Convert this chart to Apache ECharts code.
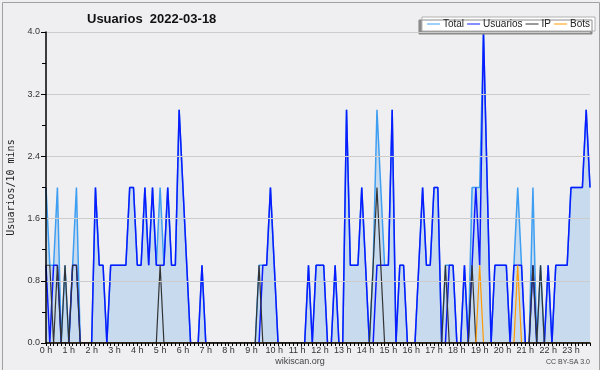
<!DOCTYPE html>
<html>
<head>
<meta charset="utf-8">
<script src="https://cdn.jsdelivr.net/npm/echarts@6/dist/echarts.min.js"></script>
<style>
html,body{margin:0;padding:0;background:#efeff1;}
#c{width:600px;height:370px;}
</style>
</head>
<body>
<div id="c"></div>
<script>
// hour labels of the x axis (one point every 10 minutes)
var hourLabels = ['0 h','1 h','2 h','3 h','4 h','5 h','6 h','7 h','8 h','9 h','10 h','11 h','12 h','13 h','14 h','15 h','16 h','17 h','18 h','19 h','20 h','21 h','22 h','23 h'];
var minuteSteps = ['00','10','20','30','40','50'];
var yTicks = [0, 0.8, 1.6, 2.4, 3.2, 4.0];

var total = [
 2,1,1,2,0,1,0,1,2,0, 0,0,0,2,1,1,0,1,1,1, 1,1,2,2,1,1,2,1,2,1,
 2,1,2,1,1,3,2,1,0,0, 0,1,0,0,0,0,0,0,0,0, 0,0,0,0,0,0,1,1,1,2,
 1,0,0,0,0,0,0,0,0,1, 0,1,1,1,0,0,1,0,0,3, 1,1,1,2,1,0,1,3,2,1,
 1,3,0,1,1,0,0,0,1,2, 1,1,2,2,0,1,1,1,0,0, 1,0,2,2,2,4,2,0,1,1,
 1,1,0,1,2,1,0,0,2,0, 1,0,1,0,1,1,1,1,2,2, 2,2,3,2
];
var usuarios = [
 1,0,1,1,0,0,0,1,1,0, 0,0,0,2,1,1,0,1,1,1, 1,1,2,2,1,1,2,1,2,1,
 1,1,2,1,1,3,2,1,0,0, 0,1,0,0,0,0,0,0,0,0, 0,0,0,0,0,0,0,1,1,2,
 1,0,0,0,0,0,0,0,0,1, 0,1,1,1,0,0,1,0,0,3, 1,1,1,2,1,0,0,1,1,1,
 1,3,0,1,1,0,0,0,1,2, 1,1,2,2,0,0,1,1,0,0, 1,0,1,2,1,4,2,0,1,1,
 1,1,0,1,1,1,0,0,1,0, 0,0,1,0,1,1,1,1,2,2, 2,2,3,2
];
var ip = [
 1,1,0,1,0,1,0,1,1,0, 0,0,0,0,0,0,0,0,0,0, 0,0,0,0,0,0,0,0,0,0,
 1,0,0,0,0,0,0,0,0,0, 0,0,0,0,0,0,0,0,0,0, 0,0,0,0,0,0,1,0,0,0,
 0,0,0,0,0,0,0,0,0,0, 0,0,0,0,0,0,0,0,0,0, 0,0,0,0,0,0,1,2,1,0,
 0,0,0,0,0,0,0,0,0,0, 0,0,0,0,0,1,0,0,0,0, 0,0,1,0,0,0,0,0,0,0,
 0,0,0,0,0,0,0,0,1,0, 1,0,0,0,0,0,0,0,0,0, 0,0,0,0
];
var bots = [
 0,0,0,0,0,0,0,0,0,0, 0,0,0,0,0,0,0,0,0,0, 0,0,0,0,0,0,0,0,0,0,
 0,0,0,0,0,0,0,0,0,0, 0,0,0,0,0,0,0,0,0,0, 0,0,0,0,0,0,0,0,0,0,
 0,0,0,0,0,0,0,0,0,0, 0,0,0,0,0,0,0,0,0,0, 0,0,0,0,0,0,0,0,0,0,
 0,0,0,0,0,0,0,0,0,0, 0,0,0,0,0,0,0,0,0,0, 0,0,0,0,1,0,0,0,0,0,
 0,0,0,0,1,0,0,0,0,0, 0,0,0,0,0,0,0,0,0,0, 0,0,0,0
];

var categories = [];
hourLabels.forEach(function (h) {
  minuteSteps.forEach(function (m) { categories.push(h.replace(' h', '') + ':' + m); });
});

var chart = echarts.init(document.getElementById('c'), null, {renderer: 'canvas'});
var labelFont = 'Liberation Sans';
chart.setOption({
  animation: false,
  backgroundColor: '#efeff1',
  title: {
    text: 'Usuarios  2022-03-18',
    left: 82, top: 8,
    textStyle: {fontFamily: labelFont, fontWeight: 'bold', fontSize: 13, color: '#111'}
  },
  legend: {
    right: 5, top: 17,
    padding: [2, 5, 2, 5],
    itemGap: 3,
    itemWidth: 13, itemHeight: 1,
    icon: 'rect',
    backgroundColor: '#ffffff',
    borderColor: '#b0b0b0', borderWidth: 1,
    shadowColor: '#8a8a8a', shadowBlur: 0, shadowOffsetX: -3, shadowOffsetY: 3,
    textStyle: {fontFamily: labelFont, fontSize: 10, color: '#222', padding: [0, 0, 0, -2]},
    data: ['Total', 'Usuarios', 'IP', 'Bots']
  },
  grid: {left: 46, right: 10, top: 32, bottom: 27, containLabel: false, outerBoundsMode: 'none'},
  xAxis: {
    type: 'category',
    boundaryGap: false,
    data: categories,
    z: 10,
    axisLine: {lineStyle: {color: '#000', width: 1.5}},
    axisTick: {show: true, interval: 0, length: 3, lineStyle: {color: '#000'}},
    axisLabel: {
      interval: 5, margin: 3,
      fontFamily: labelFont, fontSize: 9, color: '#333',
      formatter: function (v) { return parseInt(v, 10) + ' h'; }
    },
    splitLine: {show: false}
  },
  yAxis: {
    type: 'value',
    min: yTicks[0], max: yTicks[yTicks.length - 1], interval: 0.8,
    name: 'Usuarios/10 mins',
    nameLocation: 'middle', nameRotate: 90, nameGap: 29,
    nameTextStyle: {fontFamily: 'DejaVu Sans Mono', fontSize: 10, color: '#222'},
    z: 10,
    axisLine: {show: true, lineStyle: {color: '#000', width: 1.5}},
    axisTick: {show: true, length: 5, lineStyle: {color: '#000'}},
    minorTick: {show: true, splitNumber: 2, length: 4, lineStyle: {color: '#000'}},
    axisLabel: {
      margin: 6, fontFamily: labelFont, fontSize: 9, color: '#333',
      formatter: function (v) { return v.toFixed(1); }
    },
    splitLine: {show: true, lineStyle: {color: '#cccccc', width: 1}}
  },
  series: [
    {name: 'Total', type: 'line', data: total, showSymbol: false, symbol: 'none',
     lineStyle: {color: '#3d9ef2', width: 1.5}, itemStyle: {color: '#3d9ef2'},
     areaStyle: {color: 'rgb(30,130,230)', opacity: 0.19}},
    {name: 'Usuarios', type: 'line', data: usuarios, showSymbol: false, symbol: 'none',
     lineStyle: {color: '#0a1cff', width: 1.5}, itemStyle: {color: '#0a1cff'}},
    {name: 'IP', type: 'line', data: ip, showSymbol: false, symbol: 'none',
     lineStyle: {color: '#333333', width: 1.2}, itemStyle: {color: '#333333'}},
    {name: 'Bots', type: 'line', data: bots, showSymbol: false, symbol: 'none',
     lineStyle: {color: '#ff9900', width: 1.2}, itemStyle: {color: '#ff9900'}}
  ],
  graphic: [
    {type: 'rect', left: 0, top: 0, silent: true, z: 100,
     shape: {x: 0.5, y: 0.5, width: 597, height: 368},
     style: {fill: 'none', stroke: '#a0a0a0', lineWidth: 1}},
    {type: 'text', left: 'center', top: 357,
     style: {text: 'wikiscan.org', font: '9px Liberation Sans', fill: '#444'}},
    {type: 'text', right: 10, top: 359,
     style: {text: 'CC BY-SA 3.0', font: '7px Liberation Sans', fill: '#444'}}
  ]
});
</script>
</body>
</html>
